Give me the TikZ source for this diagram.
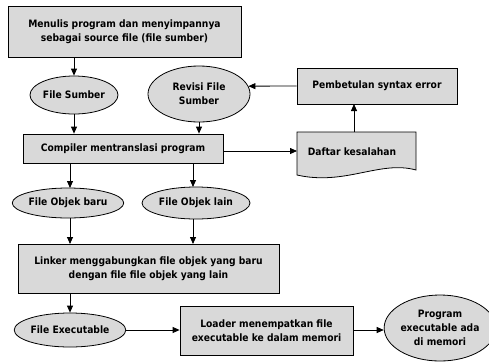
\documentclass[tikz,border=0pt]{standalone}
\usepackage{fontspec}
\setmainfont{DejaVu Sans Condensed}
\usetikzlibrary{arrows.meta,shapes.geometric,calc}
\begin{document}
\begin{tikzpicture}[x=1pt,y=-1pt,
  every node/.style={font=\fontsize{10.2}{14}\selectfont\bfseries, align=center, inner sep=0pt},
  procbox/.style={draw=black, fill=black!15, line width=0.8pt, rectangle},
  oval/.style={draw=black, fill=black!15, line width=0.8pt, ellipse},
  arr/.style={-{Triangle[length=7pt,width=6pt]}, line width=0.8pt}]
\useasboundingbox (0,0) rectangle (489,362);
% nodes
\node[procbox, minimum width=233pt, minimum height=51pt] (write) at (124.5,31.5) {Menulis program dan menyimpannya\\sebagai source file (file sumber)};
\node[oval, minimum width=88pt, minimum height=38pt] (fs) at (74,95) {File Sumber};
\node[oval, minimum width=102pt, minimum height=56pt] (rev) at (199,94) {Revisi File\\Sumber};
\node[procbox, minimum width=160pt, minimum height=36pt] (pemb) at (377,86) {Pembetulan syntax error};
\node[procbox, minimum width=200pt, minimum height=29pt] (comp) at (123,148.5) {Compiler mentranslasi program};
% document shape
\draw[fill=black!15, line width=0.8pt] (297,132) -- (416,132) -- (416,170)
   .. controls (380,160) and (345,186) .. (297,175) -- cycle;
\node (daftar) at (352,152) {Daftar kesalahan};
\node[oval, minimum width=98pt, minimum height=30pt] (objb) at (68,203) {File Objek baru};
\node[oval, minimum width=108pt, minimum height=32pt] (objl) at (196,203) {File Objek lain};
\node[procbox, minimum width=261pt, minimum height=49pt] (link) at (148.5,268.5) {Linker menggabungkan file objek yang baru\\dengan file file objek yang lain};
\node[oval, minimum width=106pt, minimum height=34pt] (exec) at (70,330) {File Executable};
\node[procbox, minimum width=173pt, minimum height=49pt] (load) at (266.5,331) {Loader menempatkan file\\executable ke dalam memori};
\node[oval, minimum width=96pt, minimum height=66pt] (prog) at (440,328) {Program\\executable ada\\di memori};
% connectors
\draw[arr] (fs.north |- write.south) -- (fs.north);
\draw[arr] (fs.south) -- (fs.south |- comp.north);
\draw[arr] (rev.south) -- (rev.south |- comp.north);
\draw[arr] (pemb.west) -- (rev.9.5);
\draw[arr] (comp.east |- 0,151) -- (297,151);
\draw[arr] (354,132) -- (354,104);
\draw[arr] (70,163) -- (70,188);
\draw[arr] (193,163) -- (193,187);
\draw[arr] (70,218) -- (70,244);
\draw[arr] (193,219) -- (193,244);
\draw[arr] (70,293) -- (exec.north);
\draw[arr] (exec.east) -- (load.west |- exec.east);
\draw[arr] (load.east |- exec.east) -- (prog.west |- exec.east);
\end{tikzpicture}
\end{document}
